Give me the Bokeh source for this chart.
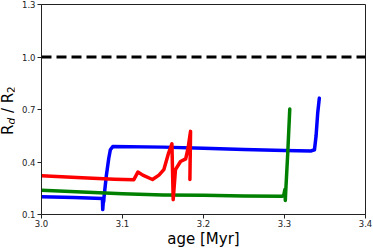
from bokeh.plotting import figure
from bokeh.models import Span, FixedTicker, Div
from bokeh.layouts import row
from bokeh.embed import file_html
from bokeh.resources import INLINE

# ---- data ----
blue_age = [3.000, 3.040, 3.0752, 3.0756, 3.0762, 3.0768, 3.0772, 3.0800, 3.0830, 3.0850, 3.0880,
            3.150, 3.200, 3.250, 3.300, 3.333, 3.337, 3.339, 3.341, 3.343]
blue_ratio = [0.202, 0.197, 0.191, 0.128, 0.165, 0.175, 0.200, 0.320, 0.420, 0.470, 0.488,
              0.485, 0.478, 0.472, 0.466, 0.463, 0.470, 0.550, 0.680, 0.765]

green_age = [3.000, 3.050, 3.100, 3.150, 3.200, 3.250, 3.297, 3.299, 3.3005, 3.3010, 3.3015,
             3.304, 3.3065]
green_ratio = [0.238, 0.228, 0.218, 0.212, 0.210, 0.206, 0.204, 0.210, 0.242, 0.180, 0.230,
               0.450, 0.703]

red_age = [3.000, 3.050, 3.090, 3.114, 3.117, 3.119, 3.125, 3.137, 3.145, 3.151, 3.157,
           3.161, 3.1626, 3.1654, 3.1716, 3.178, 3.181, 3.1835, 3.1840, 3.1838, 3.1832]
red_ratio = [0.322, 0.310, 0.302, 0.299, 0.325, 0.343, 0.325, 0.300, 0.325, 0.356, 0.453,
             0.504, 0.185, 0.356, 0.403, 0.418, 0.480, 0.560, 0.575, 0.500, 0.300]

reference_ratio = 1.0

x_ticks = [3.0, 3.1, 3.2, 3.3, 3.4]
x_tick_labels = ["3.0", "3.1", "3.2", "3.3", "3.4"]
y_ticks = [0.1, 0.4, 0.7, 1.0, 1.3]
y_tick_labels = ["0.1", "0.4", "0.7", "1.0", "1.3"]

x_label = "age [Myr]"

FONT = "DejaVu Sans"

p = figure(width=359, height=250, x_range=(3.0, 3.4), y_range=(0.1, 1.3),
           output_backend="svg", toolbar_location=None,
           min_border_left=27, min_border_right=8, min_border_top=4, min_border_bottom=34)
p.xgrid.visible = False
p.ygrid.visible = False
p.outline_line_color = "#222222"
p.outline_line_width = 1
p.background_fill_color = "white"
p.border_fill_color = "white"

for ax, ticks, labels in ((p.xaxis[0], x_ticks, x_tick_labels), (p.yaxis[0], y_ticks, y_tick_labels)):
    ax.ticker = FixedTicker(ticks=ticks)
    ax.major_label_overrides = {t: l for t, l in zip(ticks, labels)}
    ax.minor_tick_line_color = None
    ax.major_tick_in = 0
    ax.major_tick_out = 4
    ax.major_tick_line_color = "#222222"
    ax.axis_line_color = "#222222"
    ax.major_label_text_font = FONT
    ax.major_label_text_font_size = "8.5px"
    ax.major_label_text_color = "#222222"
    ax.major_label_standoff = 2

p.xaxis.major_label_standoff = 1
p.xaxis.axis_label = x_label
p.xaxis.axis_label_text_font = FONT
p.xaxis.axis_label_text_font_size = "15px"
p.xaxis.axis_label_text_font_style = "normal"
p.xaxis.axis_label_text_color = "black"
p.xaxis.axis_label_standoff = 0

p.add_layout(Span(location=reference_ratio, dimension="width", line_color="black",
                  line_width=3, line_dash="10 5"))

p.line(blue_age, blue_ratio, line_color="#0000ff", line_width=3.5, line_join="round", line_cap="round")
p.line(green_age, green_ratio, line_color="#008000", line_width=3.5, line_join="round", line_cap="round")
p.line(red_age, red_ratio, line_color="#ff0000", line_width=3.5, line_join="round", line_cap="round")

# rotated y-axis label with subscripts, as real HTML text
ylabel_html = (
    '<div style="position:absolute; left:1px; top:135px; transform:rotate(-90deg); '
    'transform-origin:0 0; white-space:nowrap; font-family:\'DejaVu Sans\'; '
    'font-size:15px; line-height:15px; color:black;">'
    'R<span style="font-size:10.5px; font-style:italic; vertical-align:-2px;">d</span>'
    ' / R<span style="font-size:10.5px; vertical-align:-2px;">2</span></div>'
)
ylabel = Div(text=ylabel_html, width=14, height=250, margin=0,
             styles={"position": "relative", "overflow": "visible"})

layout = row(ylabel, p, spacing=0)

open("out.html", "w").write(file_html(layout, INLINE))
